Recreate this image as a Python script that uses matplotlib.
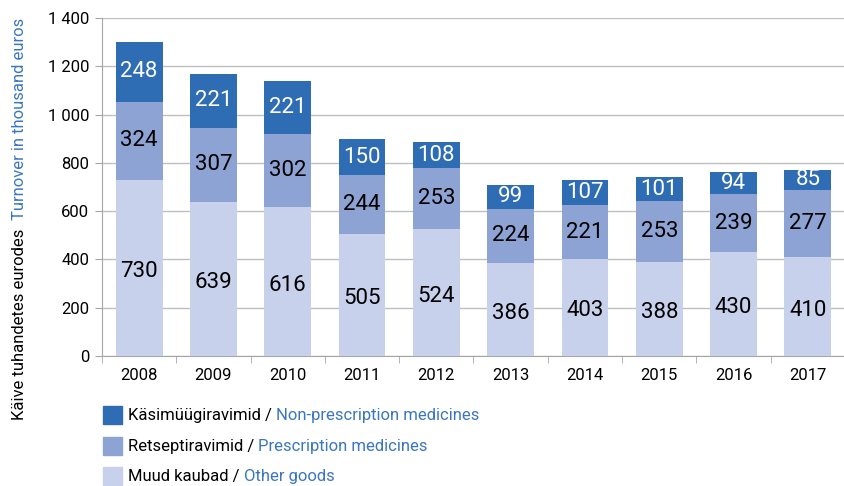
import matplotlib
matplotlib.use("Agg")
import matplotlib.pyplot as plt
import numpy as np
from matplotlib.patches import Rectangle

plt.rcParams['font.family'] = ['Roboto', 'DejaVu Sans']

years = ['2008', '2009', '2010', '2011', '2012', '2013', '2014', '2015', '2016', '2017']
other_goods = [730, 639, 616, 505, 524, 386, 403, 388, 430, 410]
prescription = [324, 307, 302, 244, 253, 224, 221, 253, 239, 277]
non_prescription = [248, 221, 221, 150, 108, 99, 107, 101, 94, 85]
yticks = [0, 200, 400, 600, 800, 1000, 1200, 1400]
ytick_labels = ['0', '200', '400', '600', '800', '1 000', '1 200', '1 400']

c_dark = '#2E6DB4'
c_mid = '#8DA3D4'
c_light = '#C8D1EB'
c_blue_txt = '#3A76C0'

fig = plt.figure(figsize=(8.45, 4.86), dpi=100)
ax = fig.add_axes([102/845, 1-356/486, 1-102/845, (356-18)/486])

x = np.arange(len(years))
w = 0.63
ax.bar(x, other_goods, w, color=c_light, zorder=3)
ax.bar(x, prescription, w, bottom=other_goods, color=c_mid, zorder=3)
bot3 = np.array(other_goods) + np.array(prescription)
ax.bar(x, non_prescription, w, bottom=bot3, color=c_dark, zorder=3)

fs = 16
for i in range(len(years)):
    ax.text(x[i], other_goods[i]/2 - 15, str(other_goods[i]), ha='center', va='center', fontsize=fs, color='black', zorder=4)
    ax.text(x[i], other_goods[i] + prescription[i]/2, str(prescription[i]), ha='center', va='center', fontsize=fs, color='black', zorder=4)
    ax.text(x[i], bot3[i] + non_prescription[i]/2, str(non_prescription[i]), ha='center', va='center', fontsize=fs, color='white', zorder=4)

ax.set_ylim(0, 1400)
ax.set_xlim(-0.5, 9.5)
ax.set_yticks(yticks)
ax.set_yticklabels(ytick_labels, fontsize=12)
ax.yaxis.grid(True, color='#BFBFBF', linewidth=1, zorder=0)
ax.set_xticks(x)
ax.set_xticklabels(years, fontsize=12)
ax.tick_params(axis='x', length=0, pad=9)
ax.set_xticks(np.arange(-0.5, 10, 1), minor=True)
ax.tick_params(axis='x', which='minor', length=5, color='#A6A6A6')
ax.tick_params(axis='y', length=5, color='#A6A6A6', pad=4)
for s in ['top', 'right']:
    ax.spines[s].set_visible(False)
ax.spines['left'].set_color('#A6A6A6')
ax.spines['bottom'].set_color('#A6A6A6')

renderer = fig.canvas.get_renderer()

# vertical bilingual axis title
t1 = fig.text(20/845, 1-420/486, 'Käive tuhandetes eurodes', rotation=90, fontsize=12, color='black', ha='center', va='bottom')
bb = t1.get_window_extent(renderer)
fig.text(20/845, (bb.y1 + 9)/486, 'Turnover in thousand euros', rotation=90, fontsize=12, color=c_blue_txt, ha='center', va='bottom')

# legend
rows = [(c_dark, 'Käsimüügiravimid / ', 'Non-prescription medicines', 415),
        (c_mid, 'Retseptiravimid / ', 'Prescription medicines', 446),
        (c_light, 'Muud kaubad / ', 'Other goods', 476)]
for col, et, en, yp in rows:
    fig.patches.append(Rectangle((103/845, 1-(yp+9)/486), 19/845, 18/486, transform=fig.transFigure, color=col, figure=fig))
    t = fig.text(128/845, 1-yp/486, et, fontsize=12, color='black', va='center', ha='left')
    bb = t.get_window_extent(renderer)
    fig.text(bb.x1/845, 1-yp/486, en, fontsize=12, color=c_blue_txt, va='center', ha='left')

fig.savefig('out.png', dpi=100)
